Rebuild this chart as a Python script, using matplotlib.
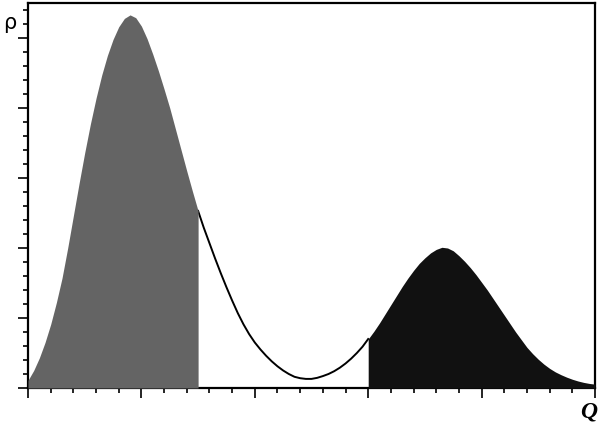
import numpy as np
import matplotlib.pyplot as plt
from matplotlib.ticker import MultipleLocator

# density curve, x in major tick units
q = [0.00, 0.05, 0.10, 0.15, 0.20, 0.25, 0.30, 0.35, 0.40, 0.45,
     0.50, 0.55, 0.60, 0.65, 0.70, 0.75, 0.80, 0.85, 0.90, 0.95,
     1.00, 1.05, 1.10, 1.15, 1.20, 1.25, 1.30, 1.35, 1.40, 1.45,
     1.50, 1.55, 1.60, 1.65, 1.70, 1.75, 1.80, 1.85, 1.90, 1.95,
     2.00, 2.05, 2.10, 2.15, 2.20, 2.25, 2.30, 2.35, 2.40, 2.45,
     2.50, 2.55, 2.60, 2.65, 2.70, 2.75, 2.80, 2.85, 2.90, 2.95,
     3.00, 3.05, 3.10, 3.15, 3.20, 3.25, 3.30, 3.35, 3.40, 3.45,
     3.50, 3.55, 3.60, 3.65, 3.70, 3.75, 3.80, 3.85, 3.90, 3.95,
     4.00, 4.05, 4.10, 4.15, 4.20, 4.25, 4.30, 4.35, 4.40, 4.45,
     4.50, 4.55, 4.60, 4.65, 4.70, 4.75, 4.80, 4.85, 4.90, 4.95, 5.00]
rho = [0.11, 0.25, 0.43, 0.65, 0.91, 1.22, 1.57, 2.00, 2.46, 2.92,
       3.36, 3.77, 4.14, 4.47, 4.75, 4.98, 5.16, 5.28, 5.33, 5.29,
       5.17, 4.99, 4.77, 4.53, 4.27, 4.00, 3.70, 3.40, 3.10, 2.81,
       2.53, 2.29, 2.07, 1.85, 1.64, 1.44, 1.25, 1.07, 0.91, 0.77,
       0.65, 0.55, 0.46, 0.38, 0.31, 0.25, 0.20, 0.16, 0.14, 0.13,
       0.13, 0.145, 0.17, 0.20, 0.24, 0.29, 0.35, 0.42, 0.50, 0.59,
       0.70, 0.81, 0.93, 1.06, 1.19, 1.32, 1.45, 1.57, 1.68, 1.78,
       1.86, 1.93, 1.98, 2.01, 2.00, 1.96, 1.89, 1.81, 1.72, 1.62,
       1.51, 1.40, 1.28, 1.16, 1.04, 0.92, 0.80, 0.69, 0.58, 0.49,
       0.41, 0.34, 0.28, 0.23, 0.19, 0.155, 0.125, 0.10, 0.08, 0.065, 0.055]

left_cut = 1.5
right_cut = 3.0

q = np.array(q)
rho = np.array(rho)

fig = plt.figure(figsize=(6, 4.25), dpi=100)
ax = fig.add_axes([28 / 600, 1 - 388 / 425, 567 / 600, 385 / 425])

mid = (q >= left_cut) & (q <= right_cut)
ax.plot(q[mid], rho[mid], color='black', lw=1.4, zorder=2)

lo = q <= left_cut
ax.fill_between(q[lo], 0, rho[lo], color='#646464', lw=0, zorder=3)
hi = q >= right_cut
ax.fill_between(q[hi], 0, rho[hi], color='#111111', lw=0, zorder=3)

ax.set_xlim(0, 5)
ax.set_ylim(0, 5.5)

ax.xaxis.set_major_locator(MultipleLocator(1))
ax.xaxis.set_minor_locator(MultipleLocator(0.2))
ax.yaxis.set_major_locator(MultipleLocator(1))
ax.yaxis.set_minor_locator(MultipleLocator(0.2))
ax.tick_params(which='both', direction='out', labelbottom=False, labelleft=False,
               width=1.2, color='black')
ax.tick_params(which='major', length=7)
ax.tick_params(which='minor', length=3.8)

for s in ax.spines.values():
    s.set_linewidth(1.6)

fig.text(10 / 600, 1 - 23 / 425, 'ρ', fontsize=15, ha='center', va='center')
fig.text(589 / 600, 1 - 412 / 425, 'Q', fontsize=17, ha='center', va='center',
         family='Liberation Serif', style='italic', weight='bold')

fig.savefig('out.png')
